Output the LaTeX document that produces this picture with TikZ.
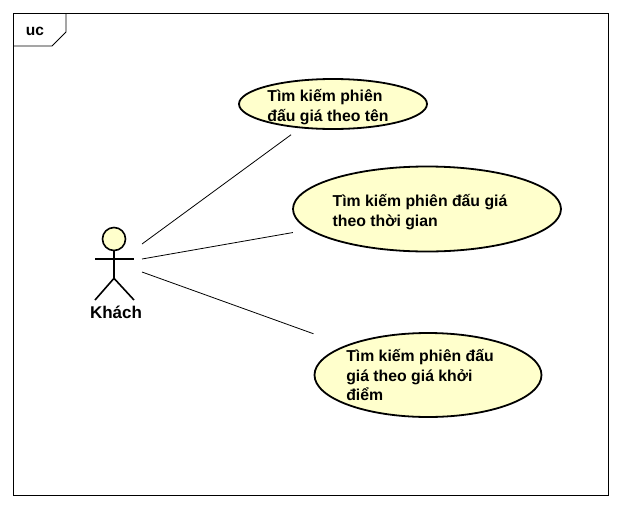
\documentclass[tikz,border=0pt]{standalone}
\usepackage{fontspec}
\setmainfont{Liberation Sans}
\usepackage{tikz}
\usetikzlibrary{positioning}
\usetikzlibrary{shapes.geometric}

\definecolor{ucfill}{RGB}{255,255,204}

\begin{document}
\begin{tikzpicture}[x=1pt, y=-1pt,
    usecase/.style = {ellipse, draw, line width=1.8pt, fill=ucfill, inner sep=0pt},
    uctext/.style = {align=left, inner sep=0pt, font=\fontsize{15.8}{19.5}\selectfont\bfseries},
    actorline/.style = {line width=1.6pt},
    assoc/.style = {line width=0.8pt}]
    \useasboundingbox (0,0) rectangle (621,509);
    % frame
    \draw[line width=0.8pt] (13,13) rectangle (608,495);
    \draw[line width=0.8pt] (13,46) -- (52,46) -- (66,32) -- (66,13);
    \node[font=\fontsize{15.5}{19.5}\selectfont\bfseries] (uc) at (35,31) {uc};
    % actor
    \node[circle, draw, actorline, fill=ucfill, minimum size=23pt, inner sep=0pt] (head) at (114,239) {};
    \draw[actorline] (head.south) -- ++(0,27) coordinate (hip);
    \draw[actorline] (95,259) -- (134,259);
    \draw[actorline] (95,300) -- (hip) -- (134,300);
    \node[font=\fontsize{17}{20}\selectfont\bfseries, anchor=base] (khach) at (116,318) {Khách};
    \coordinate (a1) at (142,244);
    \coordinate (a2) at (142,259);
    \coordinate (a3) at (142,272);
    % use cases
    \node[usecase, minimum width=188pt, minimum height=50pt,
        label={[uctext, xshift=-5pt, yshift=-3pt]center:Tìm kiếm phiên\\đấu giá theo tên}] (uc1) at (333,104) {};
    \node[usecase, minimum width=268pt, minimum height=85pt,
        label={[uctext, xshift=-7pt, yshift=-3pt]center:Tìm kiếm phiên đấu giá\\theo thời gian}] (uc2) at (427,209) {};
    \node[usecase, minimum width=227pt, minimum height=84pt,
        label={[uctext, xshift=-8pt]center:Tìm kiếm phiên đấu\\giá theo giá khởi\\điểm}] (uc3) at (428,375) {};
    % associations
    \draw[assoc, shorten >=11pt] (a1) -- (uc1);
    \draw[assoc, shorten >=16pt] (a2) -- (uc2);
    \draw[assoc, shorten >=34pt] (a3) -- (uc3);
\end{tikzpicture}
\end{document}
